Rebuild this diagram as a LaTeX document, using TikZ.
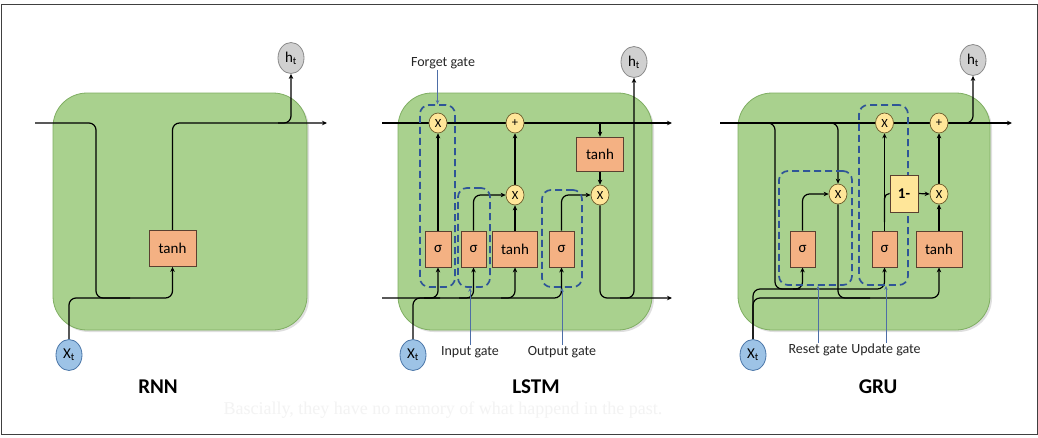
\documentclass[tikz,border=0pt]{standalone}
\usepackage{fontspec}
\setmainfont{Carlito}
\newfontfamily\serifbg{Liberation Serif}
\usetikzlibrary{shapes.geometric,arrows.meta,shadows}
\pgfdeclarelayer{cells}
\pgfdeclarelayer{lines}
\pgfsetlayers{cells,lines,main}
\definecolor{cellgreen}{HTML}{A9D18E}
\definecolor{cellborder}{HTML}{7FAE62}
\definecolor{oporange}{HTML}{F4B183}
\definecolor{opborder}{HTML}{5A4030}
\definecolor{ptyellow}{HTML}{FFE699}
\definecolor{ptborder}{HTML}{6B5A2A}
\definecolor{xblue}{HTML}{9DC3E6}
\definecolor{xborder}{HTML}{4A76A8}
\definecolor{hgray}{HTML}{D0D0D0}
\definecolor{hborder}{HTML}{8A8A8A}
\definecolor{gateblue}{HTML}{2F5597}
\definecolor{faint}{HTML}{F3F3F3}
\begin{document}
\begin{tikzpicture}[x=1pt,y=-1pt,
  cell/.style={rectangle, draw=cellborder, line width=0.8pt, fill=cellgreen, rounded corners=34pt,
    minimum width=#1, minimum height=237pt, inner sep=0pt,
    drop shadow={opacity=0.25, shadow xshift=2pt, shadow yshift=-2pt}},
  op/.style={rectangle, draw=opborder, line width=0.8pt, fill=oporange, minimum width=#1,
    minimum height=36pt, inner sep=0pt, font=\fontsize{15}{15}\selectfont},
  pt/.style={ellipse, draw=ptborder, line width=0.7pt, fill=ptyellow, minimum width=18pt,
    minimum height=20pt, inner sep=0pt, font=\fontsize{12.5}{12.5}\selectfont},
  xin/.style={ellipse, draw=xborder, line width=0.8pt, fill=xblue, minimum width=26pt,
    minimum height=31pt, inner sep=0pt, font=\fontsize{15}{15}\selectfont},
  hout/.style={ellipse, draw=hborder, line width=0.8pt, fill=hgray, minimum width=26pt,
    minimum height=31pt, inner sep=0pt, font=\fontsize{15}{15}\selectfont},
  flow/.style={draw=black, line width=1.2pt, rounded corners=7pt},
  arr/.style={flow, -{Stealth[length=5pt,width=4.5pt]}},
  gatebox/.style={rectangle, draw=gateblue, dash pattern=on 7pt off 4pt, line width=1.7pt,
    rounded corners=9pt, inner sep=0pt},
  gatelabel/.style={font=\fontsize{14}{14}\selectfont, text=black!85, inner sep=1pt},
  gatearr/.style={draw=gateblue!85, line width=0.8pt, -{Stealth[length=4pt,width=3.5pt]}},
  title/.style={font=\fontsize{21}{21}\selectfont\bfseries}]
\useasboundingbox (0,0) rectangle (1038,437);

\begin{pgfonlayer}{cells}
\fill[white] (0,0) rectangle (1038,437);
\draw[line width=1pt, black!75] (1,4) rectangle (1037,434);
\node[cell=254pt] (rbox) at (180,211.5) {};
\node[cell=254pt] (lbox) at (525,211.5) {};
\node[cell=252pt] (gbox) at (864,211.5) {};
\end{pgfonlayer}

% ---------------- RNN ----------------
\node[op=47pt] (rtanh) at (172.5,248.5) {tanh};
\node[xin] (rx) at (69,355) {X\textsubscript{t}};
\node[hout] (rh) at (291,58) {h\textsubscript{t}};
\coordinate (rin) at (35,123);
\coordinate (rout) at (327,123);
\node[title] (rtitle) at (158,387) {RNN};

% ---------------- LSTM ----------------
\node[gatebox, minimum width=35pt, minimum height=182pt] (lfg) at (437.5,196) {};
\node[gatebox, minimum width=32pt, minimum height=99pt] (lig) at (474,237.5) {};
\node[gatebox, minimum width=40pt, minimum height=97pt] (log) at (562,238.5) {};
\node[pt] (lf) at (438,123) {X};
\node[pt] (lp) at (515,123) {+};
\node[pt] (li) at (515,195) {X};
\node[pt] (lo) at (600,195) {X};
\node[op=26pt] (ls1) at (438,249) {σ};
\node[op=25pt] (ls2) at (473.5,249) {σ};
\node[op=45pt] (ltanh) at (515,249) {tanh};
\node[op=25pt] (ls3) at (561.5,249) {σ};
\node[op=47pt, minimum height=34pt] (ltanh2) at (600,154) {tanh};
\node[xin] (lx) at (413,355) {X\textsubscript{t}};
\node[hout] (lh) at (634,62) {h\textsubscript{t}};
\coordinate (lcin) at (382,123);
\coordinate (lcout) at (672,123);
\coordinate (lhin) at (382,298);
\coordinate (lhout) at (672,298);
\node[gatelabel] (lfgl) at (443,63) {Forget gate};
\node[gatelabel] (ligl) at (470,352) {Input gate};
\node[gatelabel] (logl) at (562,352) {Output gate};
\node[title] (ltitle) at (536,387) {LSTM};

% ---------------- GRU ----------------
\node[gatebox, minimum width=73pt, minimum height=114pt] (grg) at (815.5,228) {};
\node[gatebox, minimum width=49pt, minimum height=180pt] (gug) at (883.5,195) {};
\node[pt] (gxr) at (838,194) {X};
\node[pt] (gxz) at (884.5,123) {X};
\node[pt] (gp) at (939,123) {+};
\node[pt] (gx3) at (939,194) {X};
\node[op=25pt] (gsr) at (802.5,249) {σ};
\node[op=25pt] (gsz) at (884.5,249) {σ};
\node[op=46pt] (gtanh) at (939,249) {tanh};
\node[rectangle, draw=opborder, line width=0.8pt, fill=ptyellow, minimum width=28pt,
  minimum height=37pt, inner sep=0pt, font=\fontsize{15}{15}\selectfont\bfseries] (gone) at (904,193.5) {1-};
\node[xin] (gx) at (753,355) {X\textsubscript{t}};
\node[hout] (gh) at (973,60) {h\textsubscript{t}};
\coordinate (gin) at (720,123);
\coordinate (gout) at (1012,123);
\node[gatelabel] (grgl) at (818,350) {Reset gate};
\node[gatelabel] (gugl) at (886,350) {Update gate};
\node[title] (gtitle) at (878,387) {GRU};

\node[font=\serifbg\fontsize{18}{18}\selectfont, text=faint] (note) at (443,410)
  {Bascially, they have no memory of what happend in the past.};

\begin{pgfonlayer}{lines}
% RNN
\draw[arr] (rin) -| (96,298) -| (rtanh.south);
\draw[flow] (rx.north) |- (130,298);
\draw[arr] (rtanh.north) |- (rout);
\draw[arr] (278,123) -| (rh.south);
% LSTM
\draw[arr] (lcin) -- (lcout);
\draw[arr] (lhin) -| (ls3.south);
\draw[arr] (424,298) -| (ls1.south);
\draw[arr] (459,298) -| (ls2.south);
\draw[arr] (501,298) -| (ltanh.south);
\draw[flow] (lx.north) |- (440,298);
\draw[arr] (ls1.north) -- (lf.south);
\draw[arr] (ls2.north) |- (li.west);
\draw[arr] (ltanh.north) -- (li.south);
\draw[arr] (li.north) -- (lp.south);
\draw[arr] (ls3.north) |- (lo.west);
\draw[arr] (600,123) -- (ltanh2.north);
\draw[arr] (ltanh2.south) -- (lo.north);
\draw[arr] (lo.south) |- (lhout);
\draw[arr] (620,298) -| (lh.south);
% GRU
\draw[arr] (gin) -- (gout);
\draw[arr] (958,123) -| (gh.south);
\draw[arr] (762,123) -| (775,289) -| (gsz.south);
\draw[flow] (gx.north) |- (800,289);
\draw[arr] (gx.north) |- (900,298) -| (gtanh.south);
\draw[arr] (793,289) -| (gsr.south);
\draw[arr] (gsr.north) |- (gxr.west);
\draw[arr] (826,123) -| (gxr.north);
\draw[flow] (gxr.south) |- (870,298);
\draw[arr] (gsz.north) -- (gxz.south);
\draw[flow, rounded corners=5pt] (884.5,222) |- (gone.west);
\draw[arr] (gone.east) -- (gx3.west);
\draw[arr] (gtanh.north) -- (gx3.south);
\draw[arr] (gx3.north) -- (gp.south);
\end{pgfonlayer}

% gate label pointers
\draw[gatearr] (lfgl.south -| lfg.north) -- (lfg.north);
\draw[gatearr] (ligl.north) -- (ligl.north |- lig.south);
\draw[gatearr] (logl.north) -- (logl.north |- log.south);
\draw[gatearr] (grgl.north) -- (grgl.north |- grg.south);
\draw[gatearr] (gugl.north) -- (gugl.north |- gug.south);
\end{tikzpicture}
\end{document}
